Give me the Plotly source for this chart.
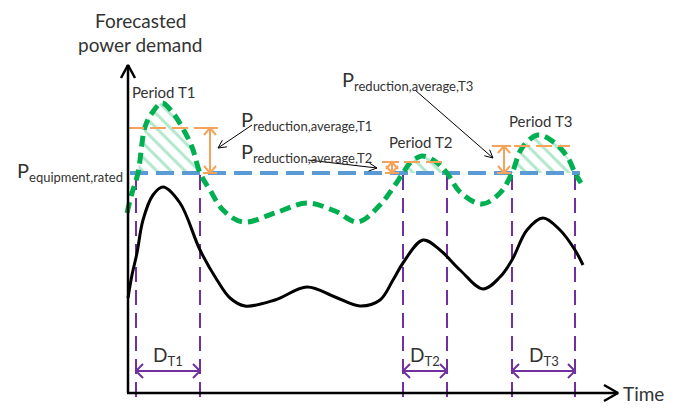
import math
import plotly.graph_objects as go

# ---------------- data (schematic units: time on x, power on y) ----------------
green_t = [127, 132, 138, 145, 152, 162, 173, 182, 192, 200, 210, 223, 243, 275, 307, 335, 358,
           380, 393, 403, 410, 422, 436, 447, 460, 482, 500, 512, 522, 538, 555, 568, 575, 581]
green_p = [196, 216, 236, 282, 296, 306, 296, 282, 262, 236, 219, 199, 187, 196, 206, 198, 187,
           204, 221, 236, 246, 253, 247, 236, 217, 205, 216, 236, 261, 274, 266, 251, 236, 226]

black_t = [128, 132, 137, 143, 153, 163, 180, 200, 217, 230, 245, 275, 307, 335, 360,
           380, 393, 403, 423, 440, 460, 483, 500, 512, 527, 543, 560, 575, 583]
black_p = [111, 134, 156, 189, 214, 222, 206, 159, 129, 111, 103, 109, 122, 112, 103,
           109, 129, 146, 169, 159, 139, 120, 132, 149, 179, 191, 179, 159, 144]

rated_power = 236
rated_span = [130, 580]

periods = ["T1", "T2", "T3"]
period_start = [136, 403, 512]
period_end = [200, 447, 575]
reduction_level = [281, 247, 263]
reduction_line_start = [128, 382, 492]
reduction_line_end = [218, 448, 570]
reduction_arrow_t = [210, 392, 504]

pointer_tail_t = [252, 308, 415]
pointer_tail_p = [284, 249, 319]
pointer_head_t = [218, 377, 493]
pointer_head_p = [261, 241, 251]

# ---------------- style ----------------
GREEN = "#00B050"
BLUE = "#5B9BD5"
PURPLE = "#7030A0"
ORANGE = "#F5A35A"
TXT = "#333333"
FONT = "Lato"


def chevron(tip_x, tip_y, from_x, from_y, length, half):
    dx, dy = tip_x - from_x, tip_y - from_y
    n = math.hypot(dx, dy)
    ux, uy = dx / n, dy / n
    nx, ny = -uy, ux
    bx, by = tip_x - ux * length, tip_y - uy * length
    return ([bx + nx * half, tip_x, bx - nx * half, None],
            [by + ny * half, tip_y, by - ny * half, None])


def add_lines(fig, xs, ys, color, width, dash=None):
    fig.add_trace(go.Scatter(x=xs, y=ys, mode="lines",
                             line=dict(color=color, width=width, dash=dash),
                             hoverinfo="skip", showlegend=False))


fig = go.Figure()

# purple period boundaries
vx, vy = [], []
for s, e in zip(period_start, period_end):
    for t in (s, e):
        vx += [t, t, None]
        vy += [234, 4, None]
add_lines(fig, vx, vy, PURPLE, 2, "15px,8px")

# hatched areas above the rated power
for s, e in zip(period_start, period_end):
    xs, ys = [], []
    for t, p in zip(green_t, green_p):
        if s - 3 <= t <= e + 1 and p >= rated_power - 0.5:
            xs.append(t)
            ys.append(p)
    fig.add_trace(go.Scatter(x=xs, y=ys, mode="none", fill="toself",
                             line=dict(shape="spline"),
                             fillcolor="rgba(0,0,0,0)",
                             fillpattern=dict(shape="\\", fgcolor="rgba(0,176,80,0.6)",
                                              bgcolor="rgba(0,0,0,0)", size=10, solidity=0.3),
                             hoverinfo="skip", showlegend=False))

# rated power line
add_lines(fig, rated_span, [rated_power, rated_power], BLUE, 4, "18px,8px")

# actual demand (black) and forecast (green)
fig.add_trace(go.Scatter(x=black_t, y=black_p, mode="lines",
                         line=dict(color="black", width=3, shape="spline", smoothing=1.0),
                         hoverinfo="skip", showlegend=False))
fig.add_trace(go.Scatter(x=green_t, y=green_p, mode="lines",
                         line=dict(color=GREEN, width=5, shape="spline", smoothing=1.0,
                                   dash="11px,6px"),
                         hoverinfo="skip", showlegend=False))

# orange reduction levels (dashed)
ox, oy = [], []
for lvl, a, b in zip(reduction_level, reduction_line_start, reduction_line_end):
    ox += [a, b, None]
    oy += [lvl, lvl, None]
add_lines(fig, ox, oy, ORANGE, 2, "16px,6px")

# orange double arrows with end bars
ax_, ay_ = [], []
for lvl, t in zip(reduction_level, reduction_arrow_t):
    ax_ += [t, t, None]
    ay_ += [lvl, rated_power, None]
    for end, other in ((lvl, rated_power), (rated_power, lvl)):
        ax_ += [t - 7, t + 7, None]
        ay_ += [end, end, None]
        cx, cy = chevron(t, end, t, other, 7, 6)
        ax_ += cx
        ay_ += cy
add_lines(fig, ax_, ay_, ORANGE, 2)

# axes with arrow heads
kx = [128, 128, None, 127, 618, None]
ky = [16, 344, None, 16, 16, None]
cx, cy = chevron(128, 344, 128, 16, 13, 7)
kx += cx
ky += cy
cx, cy = chevron(618, 16, 127, 16, 14, 8)
kx += cx
ky += cy
add_lines(fig, kx, ky, "black", 2.5)

# duration arrows
dx_, dy_ = [], []
for s, e in zip(period_start, period_end):
    dx_ += [s, e, None]
    dy_ += [38, 38, None]
    for tip, other in ((s, e), (e, s)):
        cx, cy = chevron(tip, 38, other, 38, 7, 7)
        dx_ += cx
        dy_ += cy
add_lines(fig, dx_, dy_, PURPLE, 2)

# thin pointer arrows
px_, py_ = [], []
for tt, tp, ht, hp in zip(pointer_tail_t, pointer_tail_p, pointer_head_t, pointer_head_p):
    px_ += [tt, ht, None]
    py_ += [tp, hp, None]
    cx, cy = chevron(ht, hp, tt, tp, 8, 4)
    px_ += cx
    py_ += cy
add_lines(fig, px_, py_, "black", 1)

# ---------------- texts ----------------
annotations = []


def sub(text, size):
    return '<sub><span style="font-size:%dpx">%s</span></sub>' % (size, text)


for name, s, e in zip(periods, period_start, period_end):
    annotations.append(dict(x=(s + e) / 2, y=53, xref="x", yref="y", showarrow=False,
                            text="D" + sub(name, 13),
                            font=dict(family=FONT, size=19, color=TXT)))

label_x = [239, 239, 340]
label_y = [289, 257, 329]
for name, lx, ly in zip(periods, label_x, label_y):
    annotations.append(dict(x=lx, y=ly, xref="x", yref="y", xanchor="left", yanchor="middle",
                            showarrow=False, text="P" + sub("reduction,average," + name, 13),
                            font=dict(family=FONT, size=20, color=TXT)))

annotations.append(dict(x=15, y=238, xref="x", yref="y", xanchor="left", yanchor="middle",
                        showarrow=False, text="P" + sub("equipment,rated", 13),
                        font=dict(family=FONT, size=20, color=TXT)))

period_label_x = [163, 420, 540]
period_label_y = [317, 267, 288]
for name, lx, ly in zip(periods, period_label_x, period_label_y):
    annotations.append(dict(x=lx, y=ly, xref="x", yref="y", showarrow=False,
                            text="Period %s" % name,
                            font=dict(family=FONT, size=15, color=TXT)))

annotations.append(dict(x=140, y=389, xref="x", yref="y", showarrow=False, text="Forecasted",
                        font=dict(family=FONT, size=19, color=TXT)))
annotations.append(dict(x=140, y=365, xref="x", yref="y", showarrow=False, text="power demand",
                        font=dict(family=FONT, size=19, color=TXT)))
annotations.append(dict(x=621, y=16, xref="x", yref="y", xanchor="left", yanchor="middle",
                        showarrow=False, text="Time",
                        font=dict(family=FONT, size=19, color=TXT)))

# page body has an 8px margin: the figure is 668x401 and its axes start at 8
fig.update_layout(
    width=668, height=401,
    margin=dict(l=0, r=0, t=0, b=0),
    paper_bgcolor="white", plot_bgcolor="white",
    xaxis=dict(range=[8, 676], visible=False, fixedrange=True),
    yaxis=dict(range=[0, 401], visible=False, fixedrange=True),
    annotations=annotations,
    showlegend=False,
)

fig.write_html("out.html")
